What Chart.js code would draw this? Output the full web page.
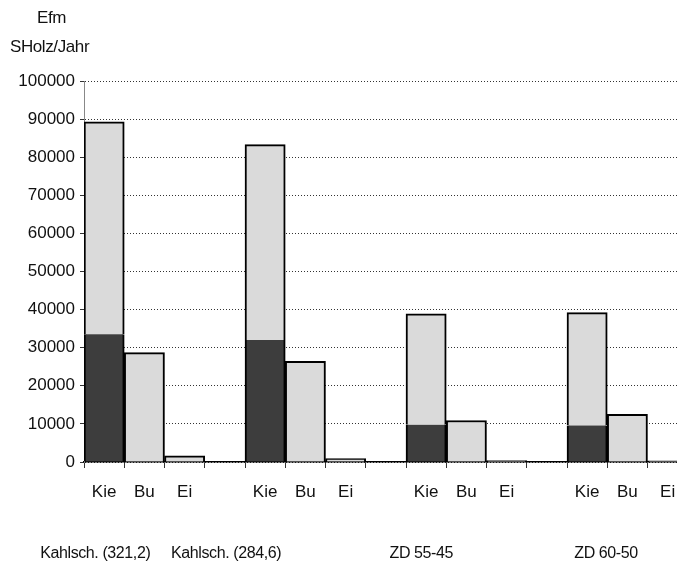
<!DOCTYPE html>
<html>
<head>
<meta charset="utf-8">
<script src="https://cdn.jsdelivr.net/npm/chart.js@4/dist/chart.umd.min.js"></script>
<style>
  html, body { margin: 0; padding: 0; background: #fff; overflow: hidden; }
  #wrap { width: 728px; height: 568px; position: relative; }
</style>
</head>
<body>
<div id="wrap"><canvas id="c"></canvas></div>
<script>
// ---- data ----
const categories = ['Kie','Bu','Ei','', 'Kie','Bu','Ei','', 'Kie','Bu','Ei','', 'Kie','Bu','Ei',''];
const groupLabels = ['Kahlsch. (321,2)', 'Kahlsch. (284,6)', 'ZD 55-45', 'ZD 60-50'];
const kieDark  = [33500, 32000, 9800, 9600];
const kieTotal = [89300, 83300, 38900, 39200];
const buValues = [28700, 26400, 10900, 12500];
const eiValues = [1600, 900, 400, 300];
const yTicks   = [0,10000,20000,30000,40000,50000,60000,70000,80000,90000,100000];
const yTitle   = ['Efm', 'SHolz/Jahr'];
const groupLabelOffset = [-0.22, -0.97, -0.12, 0.47];

// ---- build datasets ----
const darkData = [], lightData = [];
for (let g = 0; g < 4; g++) {
  darkData.push(kieDark[g], null, null, null);
  lightData.push(kieTotal[g] - kieDark[g], buValues[g], eiValues[g], null);
}

const FONT = '"Liberation Sans", Arial, sans-serif';

const textPlugin = {
  id: 'texts',
  afterDraw(chart) {
    const ctx = chart.ctx;
    const x = chart.scales.x;
    ctx.save();
    ctx.fillStyle = '#111';
    ctx.font = '17px ' + FONT;
    ctx.textBaseline = 'middle';
    ctx.textAlign = 'left';
    try { ctx.letterSpacing = '-0.4px'; } catch (e) {}
    ctx.fillText(yTitle[0], 37, 18);
    ctx.fillText(yTitle[1], 10, 47);
    ctx.font = '16px ' + FONT;
    ctx.textAlign = 'center';
    for (let g = 0; g < groupLabels.length; g++) {
      const px = x.getPixelForValue(g * 4 + groupLabelOffset[g]);
      ctx.fillText(groupLabels[g], px, 554);
    }
    ctx.restore();
  }
};

new Chart(document.getElementById('c'), {
  type: 'bar',
  data: {
    labels: categories,
    datasets: [
      {
        label: 'dark',
        data: darkData,
        backgroundColor: '#3d3d3d',
        borderColor: '#000',
        borderWidth: {top: 0, left: 2, right: 2, bottom: 0},
        borderSkipped: false,
        stack: 's'
      },
      {
        label: 'light',
        data: lightData,
        backgroundColor: '#dadada',
        borderColor: '#000',
        borderWidth: {top: 2, left: 2, right: 2, bottom: 0},
        borderSkipped: false,
        stack: 's'
      }
    ]
  },
  options: {
    responsive: true,
    maintainAspectRatio: false,
    animation: false,
    barPercentage: 1,
    categoryPercentage: 1,
    layout: { padding: { top: 81, left: 0, right: 0, bottom: 0 } },
    plugins: { legend: { display: false }, tooltip: { enabled: false } },
    scales: {
      x: {
        type: 'category',
        stacked: true,
        offset: true,
        grid: { offset: true, drawOnChartArea: false, drawTicks: true, tickLength: 6, color: '#333', lineWidth: 1 },
        border: { display: true, color: '#000', width: 1.5 },
        ticks: { font: { size: 17, family: FONT }, color: '#111', padding: 14, maxRotation: 0, autoSkip: false },
        afterFit(s) { s.height = 106; }
      },
      y: {
        stacked: true,
        min: 0,
        max: 100000,
        afterBuildTicks(s) { s.ticks = yTicks.map(v => ({ value: v })); },
        grid: { color: '#333', lineWidth: 1, drawTicks: true, tickLength: 4 },
        border: { display: true, color: '#888', dash: [1, 2] },
        ticks: { font: { size: 17, family: FONT }, color: '#111', padding: 5, callback: v => String(v) },
        afterFit(s) { s.width = 84; }
      }
    }
  },
  plugins: [textPlugin]
});
</script>
</body>
</html>
